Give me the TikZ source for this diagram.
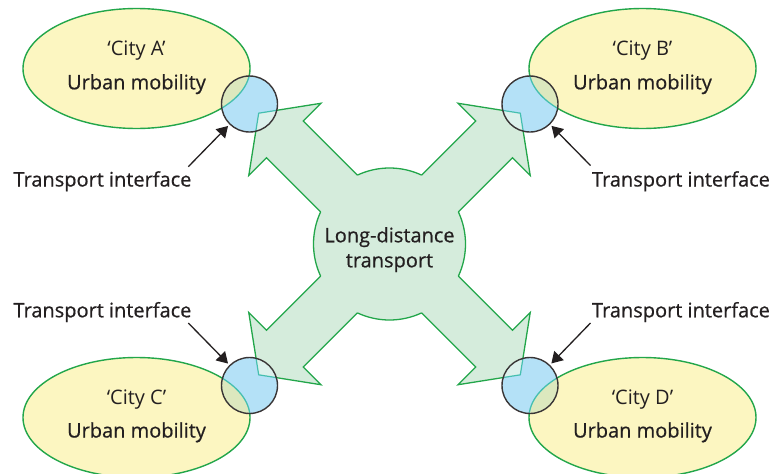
\documentclass[tikz,border=0pt]{standalone}
\usepackage{fontspec}
\setmainfont{Open Sans}
\newfontfamily\heavyfont[FakeBold=0.6]{Open Sans}
\usetikzlibrary{shapes.geometric,arrows.meta}
\definecolor{ellY}{HTML}{FCF6C1}
\definecolor{grn}{HTML}{22A64A}
\definecolor{arrF}{HTML}{D5ECDC}
\definecolor{ifBlue}{HTML}{B4E1F7}
\definecolor{ovY}{HTML}{DCE8BE}
\definecolor{ovA}{HTML}{DCF1EC}
\definecolor{tealL}{HTML}{45BFB0}
\definecolor{ink}{HTML}{231F20}
\newcommand{\LDshape}{(71.4,26) -- (148,26) -- (148,51) -- (185,0) -- (148,-51) -- (148,-26) -- (71.4,-26)}
\begin{document}
\begin{tikzpicture}[x=1pt,y=-1pt,
  txt/.style={font=\heavyfont\fontsize{20}{24}\selectfont, text=ink, inner sep=0pt, anchor=base},
  ctxt/.style={font=\fontsize{20}{24}\selectfont, text=ink, inner sep=0pt, anchor=base},
  cityell/.style={ellipse, minimum width=227pt, minimum height=120pt, inner sep=0pt, fill=ellY, draw=grn, line width=1.4pt},
  ifc/.style={circle, minimum size=56pt, inner sep=0pt, fill=ifBlue},
  ifline/.style={draw=ink!90, line width=1.4pt},
  arrline/.style={draw=grn, line width=1.3pt, line join=miter},
  ptr/.style={draw=ink, line width=1.3pt, -{Triangle[length=11pt,width=13pt]}, shorten >=2.5pt}]
\useasboundingbox (0,0) rectangle (772,474);
\fill[white] (0,0) rectangle (772,474);
\coordinate (c0) at (389.5,244);
% city ellipses
\node[cityell] (eA) at (136.5,68.5) {};
\node[cityell] (eB) at (642.5,68.5) {};
\node[cityell] (eC) at (136.5,417.5) {};
\node[cityell] (eD) at (642.5,417.5) {};
% long-distance shape
\foreach \a in {45,135,225,315}{
  \fill[arrF, shift={(c0)}, rotate=\a] \LDshape -- cycle;
}
\fill[arrF] (c0) circle[radius=76];
\foreach \a in {45,135,225,315}{
  \draw[arrline, shift={(c0)}, rotate=\a] \LDshape;
  \draw[arrline, shift={(c0)}, rotate=\a] (20:76) arc[start angle=20, end angle=70, radius=76];
}
% interface circles
\node[ifc] (ifA) at (249.5,104) {};
\node[ifc] (ifB) at (530,104) {};
\node[ifc] (ifC) at (249.5,385.5) {};
\node[ifc] (ifD) at (530,385.5) {};
\foreach \c/\e in {ifA/eA,ifB/eB,ifC/eC,ifD/eD}{
  \begin{scope}
    \clip (\c.center) circle[radius=28];
    \fill[ovY] (\e.center) ellipse[x radius=113.5, y radius=60];
    \foreach \a in {45,135,225,315}{
      \fill[ovA, shift={(c0)}, rotate=\a] \LDshape -- cycle;
    }
    \draw[tealL, line width=1.3pt] (\e.center) ellipse[x radius=113.5, y radius=60];
    \foreach \a in {45,135,225,315}{
      \draw[tealL, line width=1.2pt, shift={(c0)}, rotate=\a] \LDshape;
    }
  \end{scope}
  \draw[ifline] (\c.center) circle[radius=28];
}
% texts in ellipses
\node[ctxt] (tA1) at (136.5,55) {‘City A’};
\node[txt] (tA2) at (136.5,89.3) {Urban mobility};
\node[ctxt] (tB1) at (642.5,55) {‘City B’};
\node[txt] (tB2) at (642.5,89.3) {Urban mobility};
\node[ctxt] (tC1) at (136.5,404) {‘City C’};
\node[txt] (tC2) at (136.5,437.5) {Urban mobility};
\node[ctxt] (tD1) at (642.5,404) {‘City D’};
\node[txt] (tD2) at (642.5,437.5) {Urban mobility};
% central text
\node[txt] (ld1) at (389.5,242.3) {Long-distance};
\node[txt] (ld2) at (389.5,267.3) {transport};
% transport interface labels
\node[txt] (lA) at (102.5,186.5) {Transport interface};
\node[txt] (lB) at (681,186.5) {Transport interface};
\node[txt] (lC) at (102.5,317.3) {Transport interface};
\node[txt] (lD) at (681,317.3) {Transport interface};
\coordinate (pA) at (188.3,166.7);
\coordinate (pB) at (590.5,165.5);
\coordinate (pC) at (188.3,323);
\coordinate (pD) at (590.5,323);
\draw[ptr] (pA) -- (ifA);
\draw[ptr] (pB) -- (ifB);
\draw[ptr] (pC) -- (ifC);
\draw[ptr] (pD) -- (ifD);
\end{tikzpicture}
\end{document}
